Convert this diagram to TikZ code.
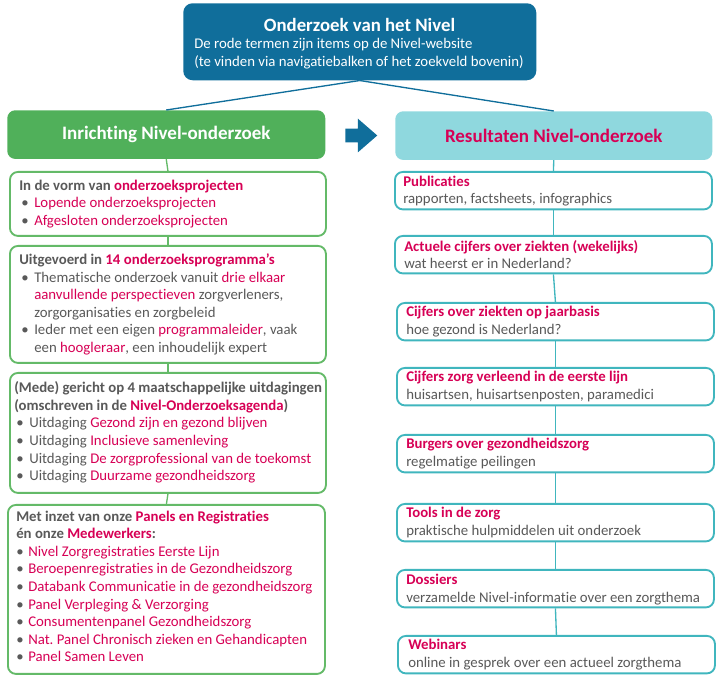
\documentclass[tikz,border=0pt]{standalone}
\usepackage{fontspec}
\setmainfont{Carlito}[Ligatures=NoCommon]
\usetikzlibrary{positioning,shapes.arrows}

\definecolor{nivelblauw}{RGB}{16,110,155}
\definecolor{nivelgroen}{RGB}{80,176,90}
\definecolor{groenrand}{RGB}{100,186,104}
\definecolor{nivelcyaan}{RGB}{143,216,222}
\definecolor{cyaanrand}{RGB}{64,182,190}
\definecolor{nivelrood}{RGB}{215,0,85}
\definecolor{tekstgrijs}{RGB}{89,89,89}

\newcommand{\rd}[1]{{\color{nivelrood}#1}}
\newcommand{\bl}[2][11.25pt]{\makebox[#1][l]{\hspace{#2}\textbullet}}

\begin{document}
\begin{tikzpicture}[x=0.75pt,y=0.75pt,yscale=-1,xscale=1,
	kop/.style={rounded corners=6pt, anchor=north west, inner sep=0pt, minimum height=36.5pt, font=\fontsize{14.25}{16}\selectfont\bfseries},
	linksvak/.style={draw=groenrand, line width=1.4pt, fill=white, rounded corners=6pt, anchor=north west, inner sep=0pt, minimum width=237pt},
	rechtsvak/.style={draw=cyaanrand, line width=1.4pt, fill=white, rounded corners=6pt, anchor=north west, inner sep=0pt, minimum width=237.75pt, minimum height=28.1pt},
	tekst/.style={anchor=north west, inner sep=0pt, align=left, text=tekstgrijs, font=\fontsize{11.1}{13.2}\selectfont},
	groenlijn/.style={draw=groenrand, line width=1pt},
	cyaanlijn/.style={draw=cyaanrand, line width=1pt}
	]
	\useasboundingbox (0,0) rectangle (722,680);
	% kop bovenaan
	\node [fill=nivelblauw, rounded corners=7pt, anchor=north west, inner sep=0pt, minimum width=264.75pt, minimum height=57.75pt] (nivel) at (183,3) {};
	\node [text=white, inner sep=0pt, font=\fontsize{14.1}{16}\selectfont\bfseries] (niveltitel) at (359.5,25) {Onderzoek van het Nivel};
	\node [anchor=north west, inner sep=0pt, align=left, text=white, font=\fontsize{11.1}{13.5}\selectfont] (nivelsub) at (194,38) {De rode termen zijn items op de Nivel-website\\(te vinden via navigatiebalken of het zoekveld bovenin)};
	% twee kolommen
	\node [kop, fill=nivelgroen, text=white, minimum width=238.5pt] (inrichting) at (7,110) {Inrichting Nivel-onderzoek};
	\node [kop, fill=nivelcyaan, text=nivelrood, minimum width=237.75pt] (resultaten) at (395,111) {Resultaten Nivel-onderzoek};
	\node [single arrow, fill=nivelblauw, anchor=tail, inner xsep=0pt, inner ysep=4.875pt, minimum width=24.75pt, minimum height=24pt, single arrow head extend=7.5pt, single arrow tip angle=82] (pijl) at (345,135.5) {};
	\draw [draw=nivelblauw, line width=1pt] (nivel.south) -- (inrichting.north) ;
	\draw [draw=nivelblauw, line width=1pt] (nivel.south) -- (resultaten.north) ;

	% linker kolom
	\node [linksvak, minimum height=48pt] (vorm) at (9,171) {};
	\node [linksvak, minimum height=87.75pt] (programma) at (9,245) {};
	\node [linksvak, minimum height=90pt] (uitdaging) at (9,372) {};
	\node [linksvak, minimum width=237.75pt, minimum height=126.75pt] (panels) at (7,504) {};
	\draw [groenlijn] (inrichting.south) -- (vorm.north) ;
	\draw [groenlijn] (vorm.south) -- (programma.north) ;
	\draw [groenlijn] (programma.south) -- (uitdaging.north) ;
	\draw [groenlijn] (uitdaging.south) -- (panels.north) ;

	\node [tekst] (vormtxt) at (19,179.5) {\textbf{In de vorm van \rd{onderzoeksprojecten}}\\
		\bl{1.5pt}\rd{Lopende onderzoeksprojecten}\\
		\bl{1.5pt}\rd{Afgesloten onderzoeksprojecten}};
	\node [tekst] (programmatxt) at (19,253.5) {\textbf{Uitgevoerd in \rd{14 onderzoeksprogramma’s}}\\
		\bl{1.5pt}Thematische onderzoek vanuit \rd{drie elkaar}\\
		\hspace*{11.25pt}\rd{aanvullende perspectieven} zorgverleners,\\
		\hspace*{11.25pt}zorgorganisaties en zorgbeleid\\
		\bl{1.5pt}Ieder met een eigen \rd{programmaleider}, vaak\\
		\hspace*{11.25pt}een \rd{hoogleraar}, een inhoudelijk expert};
	\node [tekst] (uitdagingtxt) at (14,381.5) {\textbf{(Mede) gericht op 4 maatschappelijke uitdagingen}\\
		\textbf{(omschreven in de \rd{Nivel-Onderzoeksagenda})}\\
		\bl{1.5pt}Uitdaging \rd{Gezond zijn en gezond blijven}\\
		\bl{1.5pt}Uitdaging \rd{Inclusieve samenleving}\\
		\bl{1.5pt}Uitdaging \rd{De zorgprofessional van de toekomst}\\
		\bl{1.5pt}Uitdaging \rd{Duurzame gezondheidszorg}};
	\node [tekst] (panelstxt) at (16,510.5) {\textbf{Met inzet van onze \rd{Panels en Registraties}}\\
		\textbf{én onze \rd{Medewerkers}:}\\
		\bl[9pt]{0pt}\rd{Nivel Zorgregistraties Eerste Lijn}\\
		\bl[9pt]{0pt}\rd{Beroepenregistraties in de Gezondheidszorg}\\
		\bl[9pt]{0pt}\rd{Databank Communicatie in de gezondheidszorg}\\
		\bl[9pt]{0pt}\rd{Panel Verpleging \& Verzorging}\\
		\bl[9pt]{0pt}\rd{Consumentenpanel Gezondheidszorg}\\
		\bl[9pt]{0pt}\rd{Nat.\ Panel Chronisch zieken en Gehandicapten}\\
		\bl[9pt]{0pt}\rd{Panel Samen Leven}};

	% rechter kolom
	\node [rechtsvak] (publicaties) at (394,171) {};
	\node [rechtsvak] (actueel) at (394,235) {};
	\node [rechtsvak] (jaarbasis) at (396,302) {};
	\node [rechtsvak] (eerstelijn) at (396,367) {};
	\node [rechtsvak] (burgers) at (396,434) {};
	\node [rechtsvak] (tools) at (396,503) {};
	\node [rechtsvak] (dossiers) at (396,569) {};
	\node [rechtsvak] (webinars) at (397,635) {};
	\draw [cyaanlijn] (resultaten.south) -- (publicaties.north) ;
	\draw [cyaanlijn] (publicaties.south) -- (actueel.north) ;
	\draw [cyaanlijn] (actueel.south) -- (jaarbasis.north) ;
	\draw [cyaanlijn] (jaarbasis.south) -- (eerstelijn.north) ;
	\draw [cyaanlijn] (eerstelijn.south) -- (burgers.north) ;
	\draw [cyaanlijn] (burgers.south) -- (tools.north) ;
	\draw [cyaanlijn] (tools.south) -- (dossiers.north) ;
	\draw [cyaanlijn] (dossiers.south) -- (webinars.north) ;

	\node [tekst] (publicatiestxt) at (403,175.5) {\textbf{\rd{Publicaties}}\\rapporten, factsheets, infographics};
	\node [tekst] (actueeltxt) at (404,240) {\textbf{\rd{Actuele cijfers over ziekten (wekelijks)}}\\wat heerst er in Nederland?};
	\node [tekst] (jaarbasistxt) at (406,306) {\textbf{\rd{Cijfers over ziekten op jaarbasis}}\\hoe gezond is Nederland?};
	\node [tekst] (eerstelijntxt) at (406,371) {\textbf{\rd{Cijfers zorg verleend in de eerste lijn}}\\huisartsen, huisartsenposten, paramedici};
	\node [tekst] (burgerstxt) at (406,438) {\textbf{\rd{Burgers over gezondheidszorg}}\\regelmatige peilingen};
	\node [tekst] (toolstxt) at (406,507) {\textbf{\rd{Tools in de zorg}}\\praktische hulpmiddelen uit onderzoek};
	\node [tekst] (dossierstxt) at (406,574) {\textbf{\rd{Dossiers}}\\verzamelde Nivel-informatie over een zorgthema};
	\node [tekst] (webinarstxt) at (408,639) {\textbf{\rd{Webinars}}\\online in gesprek over een actueel zorgthema};
\end{tikzpicture}
\end{document}
